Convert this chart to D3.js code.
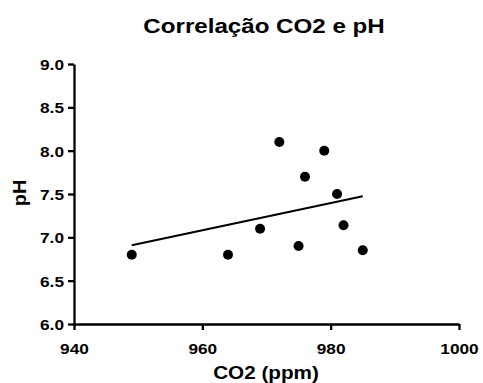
<!DOCTYPE html>
<html>
<head>
<meta charset="utf-8">
<script src="https://cdn.jsdelivr.net/npm/d3@7"></script>
<style>
	body { margin: 0; background: #fff; }
	text { font-family: "Liberation Sans", Arial, sans-serif; font-weight: bold; fill: #000; }
</style>
</head>
<body>
<div id="chart"></div>
<script>
// data
var co2 = [949, 964, 969, 972, 975, 976, 979, 981, 982, 985];
var ph = [6.8, 6.8, 7.1, 8.1, 6.9, 7.7, 8.0, 7.5, 7.14, 6.85];
var xTicks = [940, 960, 980, 1000];
var yTicks = [6.0, 6.5, 7.0, 7.5, 8.0, 8.5, 9.0];

var width = 483,
	height = 383,
	margin = { top: 64, left: 74, bottom: 59, right: 24 },
	stretch = 1.15; // the original text is a bit wider than Arial

var points = co2.map(function(d, i){ return { x: d, y: ph[i] }; });

// least squares line
var mx = d3.mean(co2), my = d3.mean(ph);
var slope = d3.sum(points, function(d){ return (d.x - mx) * (d.y - my); }) /
	d3.sum(points, function(d){ return (d.x - mx) * (d.x - mx); });
var fit = d3.extent(co2).map(function(x){ return { x: x, y: my + slope * (x - mx) }; });

var x = d3.scaleLinear().domain([940, 1000]).range([margin.left, width - margin.right]);
var y = d3.scaleLinear().domain([6, 9]).range([height - margin.bottom, margin.top]);

var svg = d3.select('#chart').append('svg')
	.attr('width', width)
	.attr('height', height);

var xAxis = svg.append('g')
	.attr('transform', 'translate(0,' + (height - margin.bottom) + ')')
	.call(d3.axisBottom(x).tickValues(xTicks).tickFormat(d3.format('d')).tickSize(6).tickSizeOuter(0));

var yAxis = svg.append('g')
	.attr('transform', 'translate(' + margin.left + ',0)')
	.call(d3.axisLeft(y).tickValues(yTicks).tickFormat(d3.format('.1f')).tickSize(6).tickSizeOuter(0));

[xAxis, yAxis].forEach(function(g){
	g.select('.domain').attr('stroke', '#000').attr('stroke-width', 2.3);
	g.selectAll('.tick line').attr('stroke', '#000').attr('stroke-width', 2.3);
	g.selectAll('.tick text').style('font-size', '15px');
});

xAxis.selectAll('.tick text')
	.attr('y', 0)
	.attr('dy', 0)
	.attr('transform', 'translate(0,30) scale(' + stretch + ',1)');

yAxis.selectAll('.tick text')
	.attr('x', 0)
	.attr('dy', '0.36em')
	.attr('transform', 'translate(-10,0) scale(' + stretch + ',1)');

svg.append('path')
	.datum(fit)
	.attr('d', d3.line().x(function(d){ return x(d.x); }).y(function(d){ return y(d.y); }))
	.attr('fill', 'none')
	.attr('stroke', '#000')
	.attr('stroke-width', 2.2);

svg.selectAll('.mark')
	.data(points)
	.enter()
	.append('circle')
		.attr('class', 'mark')
		.attr('cx', function(d){ return x(d.x); })
		.attr('cy', function(d){ return y(d.y); })
		.attr('r', 5)
		.attr('fill', '#000');

svg.append('text')
	.attr('text-anchor', 'middle')
	.attr('transform', 'translate(264,33) scale(' + stretch + ',1)')
	.style('font-size', '21px')
	.text('Correlação CO2 e pH');

svg.append('text')
	.attr('text-anchor', 'middle')
	.attr('transform', 'translate(266,379) scale(' + stretch + ',1)')
	.style('font-size', '18px')
	.text('CO2 (ppm)');

svg.append('text')
	.attr('text-anchor', 'middle')
	.attr('transform', 'translate(26,193) rotate(-90) scale(1.05,1)')
	.style('font-size', '19px')
	.text('pH');
</script>
</body>
</html>
